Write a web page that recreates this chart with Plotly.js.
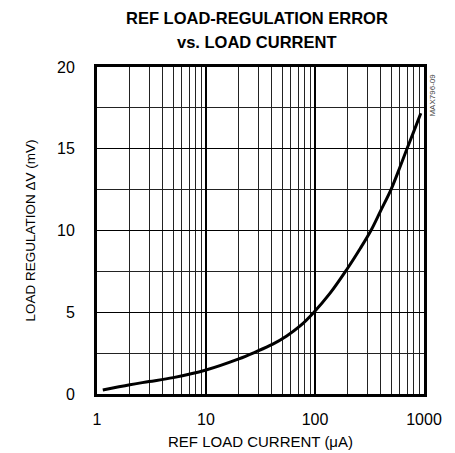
<!DOCTYPE html>
<html><head><meta charset="utf-8">
<script src="https://cdn.plot.ly/plotly-3.0.1.min.js"></script>
<style>html,body{margin:0;padding:0;background:#fff}#chart{width:455px;height:453px}</style>
</head><body><div id="chart"></div>
<script>
const loadCurrent = [1.13, 2, 3, 5, 10, 20, 28, 41, 55, 73, 96, 137, 195, 260, 326, 400, 498, 600, 698, 800, 935];
const regulationMv = [0.25, 0.57, 0.76, 1.0, 1.47, 2.15, 2.55, 3.05, 3.55, 4.16, 4.94, 6.15, 7.6, 8.9, 10.0, 11.2, 12.5, 13.85, 15.0, 16.0, 17.17];
const xTickVals = [1, 10, 100, 1000];
const xTickText = ['1', '10', '100', '1000'];
const yTickVals = [0, 5, 10, 15, 20];
const titleLines = ['REF LOAD-REGULATION ERROR', 'vs. LOAD CURRENT'];

const minorVals = [];
for (let d = 1; d <= 100; d *= 10) for (let k = 2; k <= 9; k++) minorVals.push(k * d);

const font = 'Liberation Sans, Arial, sans-serif';
const trace = {
  x: loadCurrent, y: regulationMv, type: 'scatter', mode: 'lines',
  line: {color: '#000', width: 3, shape: 'spline', smoothing: 1},
  hoverinfo: 'skip'
};
const titleFont = {family: 'Liberation Sans Narrow, Arial Narrow, ' + font, size: 16.5, color: '#000'};
const layout = {
  width: 455, height: 453,
  margin: {l: 97, r: 31, t: 67, b: 59},
  paper_bgcolor: '#fff', plot_bgcolor: '#fff',
  showlegend: false,
  xaxis: {
    type: 'log', range: [0, 3], tickvals: xTickVals, ticktext: xTickText,
    showgrid: true, gridcolor: '#000', gridwidth: 2,
    minor: {tickvals: minorVals, showgrid: true, gridcolor: '#222', gridwidth: 1, ticks: ''},
    ticks: '', ticklabelstandoff: 9, zeroline: false,
    showline: true, linecolor: '#000', linewidth: 3, mirror: true,
    tickfont: {family: font, size: 16, color: '#000'},
    title: {text: 'REF LOAD CURRENT (μA)', font: {family: font, size: 15, color: '#000'}, standoff: 10}
  },
  yaxis: {
    range: [0, 20], tickvals: yTickVals,
    showgrid: true, gridcolor: '#000', gridwidth: 1,
    minor: {dtick: 2.5, showgrid: true, gridcolor: '#222', gridwidth: 1, ticks: ''},
    ticks: '', ticklabelstandoff: 16, zeroline: false,
    showline: true, linecolor: '#000', linewidth: 3, mirror: true,
    tickfont: {family: font, size: 16, color: '#000'},
    title: {text: 'LOAD REGULATION ΔV (mV)', font: {family: font, size: 13.5, color: '#000'}, standoff: 19}
  },
  annotations: [
    {text: '<b>' + titleLines[0] + '</b>', xref: 'paper', yref: 'paper', x: 0.49, y: 1 + (67 - 18) / 327,
     xanchor: 'center', yanchor: 'middle', showarrow: false, font: titleFont},
    {text: '<b>' + titleLines[1] + '</b>', xref: 'paper', yref: 'paper', x: 0.49, y: 1 + (67 - 42) / 327,
     xanchor: 'center', yanchor: 'middle', showarrow: false, font: titleFont},
    {text: 'MAX796-09', xref: 'paper', yref: 'paper', x: 1.005, y: 0.985,
     xanchor: 'left', yanchor: 'top', textangle: -90, showarrow: false,
     font: {family: 'Liberation Sans Narrow, ' + font, size: 8, color: '#444'}}
  ]
};
Plotly.newPlot('chart', [trace], layout, {staticPlot: true, displayModeBar: false});
</script></body></html>
